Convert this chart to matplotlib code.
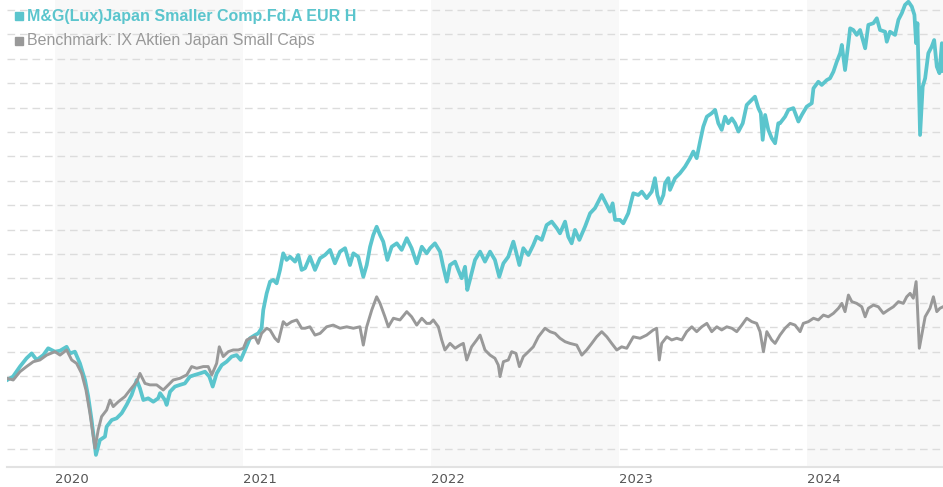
import matplotlib
matplotlib.use("Agg")
import matplotlib.pyplot as plt
from matplotlib.lines import Line2D

fund_name = "M&G(Lux)Japan Smaller Comp.Fd.A EUR H"
bench_name = "Benchmark: IX Aktien Japan Small Caps"
years = [2020, 2021, 2022, 2023, 2024]

# performance in %, time as decimal years
fund_t = [2019.746, 2019.777, 2019.814, 2019.849, 2019.876, 2019.903, 2019.938, 2019.964,
          2020.000, 2020.027, 2020.062, 2020.080, 2020.106, 2020.133, 2020.160, 2020.177,
          2020.195, 2020.218, 2020.239, 2020.266, 2020.275, 2020.302, 2020.328, 2020.355,
          2020.381, 2020.408, 2020.435, 2020.452, 2020.470, 2020.496, 2020.523, 2020.549,
          2020.559, 2020.585, 2020.594, 2020.612, 2020.638, 2020.665, 2020.691, 2020.718,
          2020.745, 2020.771, 2020.798, 2020.821, 2020.839, 2020.860, 2020.887, 2020.913,
          2020.940, 2020.966, 2020.988, 2021.011, 2021.037, 2021.064, 2021.081, 2021.099,
          2021.108, 2021.126, 2021.144, 2021.161, 2021.179, 2021.197, 2021.214, 2021.232,
          2021.250, 2021.277, 2021.294,
          2021.312, 2021.330, 2021.356, 2021.383, 2021.410, 2021.436, 2021.463, 2021.489,
          2021.516, 2021.543, 2021.569, 2021.587, 2021.613, 2021.640, 2021.658, 2021.676,
          2021.693, 2021.711, 2021.729, 2021.746, 2021.768, 2021.791, 2021.818, 2021.844,
          2021.871, 2021.897, 2021.924, 2021.951, 2021.977,
          2021.995, 2022.021, 2022.048, 2022.065, 2022.084, 2022.101, 2022.128, 2022.145,
          2022.163, 2022.181, 2022.193, 2022.207, 2022.234, 2022.261, 2022.287, 2022.314,
          2022.340, 2022.363, 2022.385, 2022.411, 2022.438, 2022.452, 2022.470, 2022.491,
          2022.518, 2022.544, 2022.562, 2022.589, 2022.615, 2022.642, 2022.669, 2022.686,
          2022.713, 2022.730, 2022.748, 2022.766, 2022.789, 2022.819, 2022.846, 2022.872,
          2022.908, 2022.935, 2022.952, 2022.966, 2022.979, 2023.005, 2023.023,
          2023.049, 2023.076, 2023.103, 2023.121, 2023.147, 2023.174, 2023.191, 2023.204,
          2023.218, 2023.236, 2023.245, 2023.262, 2023.271, 2023.298, 2023.324, 2023.351,
          2023.378, 2023.395, 2023.413, 2023.431, 2023.448, 2023.467, 2023.493, 2023.511,
          2023.528, 2023.546, 2023.564, 2023.581, 2023.600, 2023.617, 2023.635, 2023.658,
          2023.679, 2023.706, 2023.723, 2023.741, 2023.754, 2023.764, 2023.777, 2023.794,
          2023.812, 2023.830, 2023.847,
          2023.856, 2023.883, 2023.901, 2023.927, 2023.954, 2023.972, 2023.998, 2024.025,
          2024.034, 2024.060, 2024.078, 2024.105, 2024.122, 2024.140, 2024.158, 2024.176,
          2024.185, 2024.202, 2024.220, 2024.229, 2024.246, 2024.264, 2024.282, 2024.309,
          2024.326, 2024.353, 2024.371, 2024.388, 2024.415, 2024.424, 2024.441, 2024.468,
          2024.486, 2024.504, 2024.521, 2024.539, 2024.557, 2024.571, 2024.580, 2024.587,
          2024.601, 2024.615, 2024.628, 2024.645, 2024.663, 2024.676, 2024.690, 2024.704,
          2024.717, 2024.723]
fund_v = [-1.6, -0.2, 3.9, 7.3, 9.3, 6.6, 8.6, 11.4,
          10, 10.4, 12, 9.3, 10, 5.2, -1.6, -8.4,
          -18, -32.3, -26.2, -24.8, -20.7, -18, -17.3, -15.2,
          -11.8, -7.7, -1.6, -5, -9.8, -9.1, -10.5, -9.1,
          -7, -9.8, -11.8, -6.4, -4.3, -3.6, -3, -0.2,
          0.5, 1.1, 1.8, -0.2, -4.3, 1.1, 4.5, 5.9,
          8, 8.6, 6.6, 10.7, 15.5, 16.8, 17.5, 19.6,
          27.1, 33.9, 38.7, 39.4, 38, 43.5, 50.3, 47.6,
          48.9, 46.9, 49.6,
          43.5, 44.2, 48.9, 43.5, 48.3, 49.6, 51.7, 46.2,
          51, 52.4, 45.5, 50.3, 48.9, 40.7, 45.5, 53,
          57.8, 61.2, 57.8, 55.1, 47.6, 53, 54.4, 51.7,
          56.5, 52.4, 46.2, 53, 50.3,
          52.4, 54.4, 51, 44.8, 38.7, 45.5, 46.9, 43.5,
          40.1, 44.8, 35.3, 39.4, 47.6, 51, 46.9, 51,
          47.6, 40.7, 46.2, 48.9, 55.1, 51, 45.5, 52.4,
          49.6, 53.7, 57.1, 55.8, 61.9, 63.3, 60.6, 58.5,
          63.3, 57.1, 54.4, 59.9, 55.8, 61.2, 66.7, 68.8,
          74.2, 70.1, 67.4, 70.8, 64, 64, 62.6,
          66.7, 74.9, 74.2, 75.6, 72.9, 75.6, 81.1, 74.2,
          70.8, 74.2, 79, 81.1, 76.3, 81.1, 83.1, 85.8,
          89.3, 92, 89.3, 96.1, 102.2, 106.3, 107.7, 109.1,
          103.6, 100.9, 106.3, 103.6, 105.6, 103.6, 100.2, 103.6,
          111.1, 113.2, 114.5, 109.8, 107.7, 96.8, 107, 100.9,
          97.5, 95.4, 103.6,
          103.6, 106.3, 109.1, 109.8, 104.3, 107, 110.4, 111.8,
          117.9, 120.6, 119.3, 121.3, 122, 124.7, 128.8, 132.3,
          135.7, 125.4, 136.4, 142.5, 141.8, 139.8, 141.8, 134.3,
          143.9, 144.6, 146.6, 141.8, 141.1, 137, 141.1, 139.8,
          146, 148.7, 152.1, 153.4, 151.4, 148, 136.4, 144.6,
          98.8, 118.6, 122, 132.3, 135, 137.7, 126.8, 124.1,
          136.4, 125]

bench_t = [2019.746, 2019.778, 2019.814, 2019.849, 2019.885, 2019.920, 2019.956, 2020.000,
           2020.027, 2020.062, 2020.089, 2020.115, 2020.142, 2020.165, 2020.186, 2020.213,
           2020.230, 2020.248, 2020.275, 2020.293, 2020.310, 2020.337, 2020.372, 2020.399,
           2020.435, 2020.452, 2020.479, 2020.505,
           2020.541, 2020.576, 2020.603, 2020.629, 2020.665, 2020.701, 2020.727, 2020.754,
           2020.789, 2020.815, 2020.834, 2020.860, 2020.874, 2020.895, 2020.922, 2020.948,
           2020.975, 2021.002, 2021.020, 2021.037, 2021.064, 2021.081, 2021.099, 2021.126,
           2021.144, 2021.170, 2021.188, 2021.214, 2021.232, 2021.259, 2021.286, 2021.312,
           2021.330, 2021.356, 2021.383, 2021.410, 2021.445, 2021.480, 2021.516, 2021.552,
           2021.587, 2021.622, 2021.640, 2021.658, 2021.685, 2021.711, 2021.729, 2021.755,
           2021.773, 2021.800, 2021.835, 2021.871, 2021.897, 2021.924, 2021.951, 2021.977,
           2021.995, 2022.012, 2022.039, 2022.057, 2022.074, 2022.101, 2022.128, 2022.154,
           2022.172, 2022.190, 2022.216, 2022.243, 2022.261, 2022.287, 2022.314, 2022.340,
           2022.358, 2022.367, 2022.385, 2022.411, 2022.429, 2022.452, 2022.470, 2022.491,
           2022.518, 2022.544, 2022.571, 2022.606, 2022.633, 2022.660, 2022.686, 2022.713,
           2022.739, 2022.775, 2022.802, 2022.828, 2022.855, 2022.881, 2022.908, 2022.935,
           2022.961, 2022.988, 2023.014,
           2023.041, 2023.076, 2023.112, 2023.147, 2023.182, 2023.200, 2023.214, 2023.227,
           2023.254, 2023.280, 2023.307, 2023.334, 2023.360, 2023.387, 2023.413, 2023.440,
           2023.467, 2023.493, 2023.520, 2023.546, 2023.573, 2023.600, 2023.626, 2023.653,
           2023.679, 2023.706, 2023.732, 2023.750, 2023.768, 2023.786, 2023.812, 2023.830,
           2023.856, 2023.883, 2023.910, 2023.936,
           2023.963, 2023.980, 2024.007, 2024.034, 2024.060, 2024.087, 2024.113, 2024.140,
           2024.167, 2024.185, 2024.202, 2024.220, 2024.238, 2024.264, 2024.291, 2024.309,
           2024.326, 2024.353, 2024.379, 2024.406, 2024.432, 2024.459, 2024.486, 2024.512,
           2024.530, 2024.548, 2024.565, 2024.580, 2024.587, 2024.597, 2024.610, 2024.628,
           2024.654, 2024.672, 2024.690, 2024.707, 2024.723]
bench_v = [-0.9, -1.6, 1.8, 3.9, 5.9, 6.6, 8.6, 10,
           8.6, 10.7, 6.6, 5.2, 1.1, -5.7, -15.2, -29.6,
           -22.1, -16.6, -13.9, -9.8, -12.5, -10.5, -8.4, -5.7,
           -2.3, 1.1, -3, -3.6,
           -3.6, -5.7, -3.6, -1.6, -0.9, 0.5, 3.9, 3.2,
           3.9, 3.9, 0.5, 5.2, 12, 8, 10, 10.7,
           10.7, 11.4, 14.8, 15.5, 16.1, 13.4, 17.5, 19.6,
           18.9, 15.5, 14.1, 22.3, 20.9, 22.3, 23, 19.6,
           19.6, 20.2, 16.8, 17.5, 20.2, 20.9, 19.6, 20.2,
           19.6, 20.2, 12.7, 20.2, 27.1, 32.5, 29.8, 24.3,
           20.2, 23.7, 23, 26.4, 24.3, 20.9, 23.7, 21.6,
           21.6, 23, 20.2, 14.8, 10.7, 13.4, 11.4, 12.7,
           13.4, 6.6, 12, 14.8, 16.8, 10.7, 8.6, 7.3,
           4.5, -0.2, 5.9, 6.6, 10, 9.3, 3.9, 8,
           10, 12, 16.1, 19.6, 18.2, 17.5, 15.5, 14.1,
           13.4, 12.7, 8.6, 10.7, 13.4, 16.1, 18.2, 16.1,
           13.4, 10.7, 12,
           11.4, 16.1, 15.5, 16.8, 18.9, 19.6, 6.6, 13.4,
           16.1, 14.8, 15.5, 14.8, 18.2, 20.2, 18.2, 20.2,
           21.6, 18.2, 20.2, 18.9, 20.2, 19.6, 18.2, 20.9,
           23.7, 22.3, 21.6, 18.2, 10, 18.2, 14.8, 13.4,
           16.8, 19.6, 21.6, 20.9,
           18.2, 21.6, 22.3, 23.7, 23, 25, 24.3, 25.7,
           27.8, 29.8, 26.4, 33.2, 30.5, 29.8, 28.4, 24.3,
           27.8, 29.1, 28.4, 25.7, 27.1, 28.4, 30.5, 29.8,
           32.5, 33.9, 31.9, 38.7, 28.4, 11.4, 16.8, 24.3,
           27.8, 32.5, 26.4, 27.8, 28.4]

TEAL = "#5bc5cd"
GREY = "#999999"

fig = plt.figure(figsize=(9.43, 4.87), dpi=100)
ax = fig.add_axes([7 / 943, 20 / 487, 936 / 943, 467 / 487])

# alternating year bands
for y0 in years[::2]:
    ax.axvspan(y0, y0 + 1, color="#f8f8f8", lw=0, zorder=0)

ax.plot(fund_t, fund_v, color=TEAL, lw=2.7, solid_joinstyle="round", zorder=3)
ax.plot(bench_t, bench_v, color=GREY, lw=2.1, solid_joinstyle="round", zorder=4)

ax.set_xlim(2019.745, 2024.723)
ax.set_ylim(-37.25, 154.1)
ax.set_yticks(range(-30, 151, 10))
ax.yaxis.grid(True, color="#dcdcdc", lw=1.0, linestyle=(0, (5.5, 3.5)))
ax.set_axisbelow(True)
ax.tick_params(axis="y", length=0, labelleft=False)

ax.set_xticks(years)
ax.set_xticklabels([str(y) for y in years])
ax.tick_params(axis="x", length=0, pad=4, labelsize=9.5, labelcolor="#555555")
for lab in ax.get_xticklabels():
    lab.set_horizontalalignment("left")

for s in ["top", "left", "right"]:
    ax.spines[s].set_visible(False)
ax.spines["bottom"].set_color("#e2e2e2")
ax.spines["bottom"].set_linewidth(1.5)

# legend at top-left
for i, (name, col, wt) in enumerate([(fund_name, TEAL, "bold"), (bench_name, GREY, "normal")]):
    yy = 1 - (16 + 25 * i) / 487
    fig.add_artist(Line2D([19 / 943], [yy], marker="s", ms=5.5, color=col, lw=0,
                          transform=fig.transFigure))
    fig.text(27 / 943, yy, name, color=col, fontsize=11.5, fontweight=wt,
             family="Liberation Sans", va="center", ha="left")

fig.savefig("out.png", dpi=100)
